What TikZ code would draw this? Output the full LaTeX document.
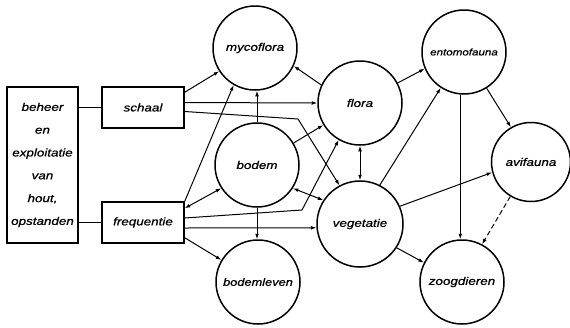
\documentclass[tikz,border=0pt]{standalone}
\usepackage{fontspec}
\newfontfamily\lbl[FakeStretch=1.22,FakeBold=0.8]{Liberation Sans}
\usetikzlibrary{arrows.meta,calc}
\begin{document}
\begin{tikzpicture}[x=1pt,y=-1pt,
  txt/.style={font={\lbl\itshape\fontsize{11}{13}\selectfont}},
  circ/.style={circle,draw,line width=1.5pt,minimum size=84pt,inner sep=0pt,txt},
  boxx/.style={rectangle,draw,line width=1.5pt,inner sep=0pt,txt},
  conn/.style={line width=1pt},
  arr/.style={conn,-{Latex[length=5.5pt,width=3.8pt]}},
  darr/.style={conn,{Latex[length=5.5pt,width=3.8pt]}-{Latex[length=5.5pt,width=3.8pt]}}]
\useasboundingbox (0,0) rectangle (570,327);
% boxes
\node[boxx,minimum width=71pt,minimum height=156pt,align=center,
      font={\lbl\itshape\fontsize{11}{22.8}\selectfont}] (beheer) at (42.5,165)
  {beheer\\en\\exploitatie\\van\\hout,\\opstanden};
\node[boxx,minimum width=82pt,minimum height=41pt] (schaal) at (143,107.5) {schaal};
\node[boxx,minimum width=82pt,minimum height=41pt] (freq) at (143,222.5) {frequentie};
% circles
\node[circ] (myco) at (255,48) {mycoflora};
\node[circ] (bodem) at (257,165) {bodem};
\node[circ,font={\lbl\itshape\fontsize{10.5}{13}\selectfont}] (leven) at (258,282) {bodemleven};
\node[circ] (flora) at (360,103) {flora};
\node[circ,minimum size=86pt] (veg) at (360,224) {vegetatie};
\node[circ,font={\lbl\itshape\fontsize{9.5}{12}\selectfont}] (ento) at (464,52) {entomofauna};
\node[circ,minimum size=79pt] (avi) at (531,162) {avifauna};
\node[circ] (zoog) at (462,282) {zoogdieren};
% bend points
\coordinate (b1) at (298,119);
\coordinate (b2) at (302,210);
% connectors
\draw[conn] (schaal.west -| beheer.east) -- (schaal.west);
\draw[conn] (freq.west -| beheer.east) -- (freq.west);
\draw[arr] ([yshift=-6pt]schaal.north east) -- (myco.213);
\draw[arr] ([yshift=5pt]schaal.east) -- (flora.west);
\draw[arr] ([yshift=-4pt]schaal.east) -- (b1) -- (veg.118);
\draw[arr] (bodem.north) -- (bodem.north |- myco.south);
\draw[arr] (flora.155) -- (myco.335);
\draw[arr] (freq.north east) -- (myco.240);
\draw[arr] (bodem.31) -- (flora.211);
\draw[arr] ([yshift=4.5pt]freq.east) -- (b2) -- (flora.240);
\draw[darr] ([yshift=-7pt]freq.north east) -- (bodem.213);
\draw[darr] (bodem.327) -- (veg.147);
\draw[arr] (bodem.south) -- (bodem.south |- leven.north);
\draw[arr] ([yshift=6pt]freq.south east) -- (leven.149);
\draw[arr] ([yshift=-5.5pt]freq.east) -- (veg.185);
\draw[darr] (flora.south) -- (flora.south |- veg.north);
\draw[arr] (flora.28) -- (ento.203);
\draw[arr] (veg.63) -- (ento.237);
\draw[arr] (ento.265) -- (ento.265 |- zoog.north);
\draw[arr] (ento.302) -- (avi.120);
\draw[arr] (veg.24) -- (avi.195);
\draw[arr,dashed,dash pattern=on 5pt off 3pt] (avi.239) -- (zoog.62);
\draw[arr] (veg.327) -- (zoog.153);
\end{tikzpicture}
\end{document}
